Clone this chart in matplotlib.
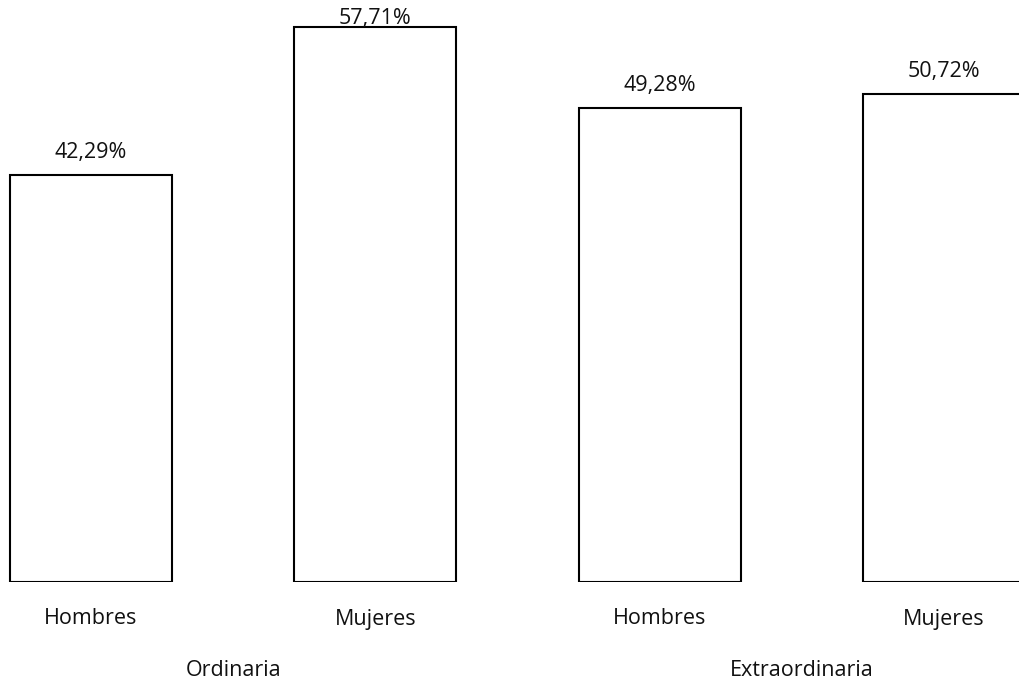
import matplotlib
matplotlib.use("Agg")
import matplotlib.pyplot as plt
import matplotlib.transforms as mtransforms

categories = ["Hombres", "Mujeres", "Hombres", "Mujeres"]
groups = ["Ordinaria", "Extraordinaria"]
values = [42.29, 57.71, 49.28, 50.72]
labels = ["42,29%", "57,71%", "49,28%", "50,72%"]

plt.rcParams['font.family'] = ['Open Sans', 'DejaVu Sans']
FS = 15.5

fig = plt.figure(figsize=(10.2, 6.85), dpi=100)
ax = fig.add_axes([0, 103/685, 1, 577.44/685])

x = list(range(len(values)))
ax.bar(x, values, width=0.57, color="white", edgecolor="black", linewidth=1.5)
ax.set_xlim(-0.320, 3.268)
ax.set_ylim(0, 60)
ax.axis("off")

for xi, v, lab in zip(x, values, labels):
    ly = min(v + 2.35, 58.55)
    ax.text(xi, ly, lab, ha="center", va="center", fontsize=FS, color="#111111")

trans = mtransforms.blended_transform_factory(ax.transData, fig.transFigure)
for xi, c in zip(x, categories):
    ax.text(xi, 1 - 619/685, c, ha="center", va="center", fontsize=FS,
            color="#111111", transform=trans, clip_on=False)
for gi, g in enumerate(groups):
    ax.text(2 * gi + 0.5, 1 - 671/685, g, ha="center", va="center", fontsize=FS,
            color="#111111", transform=trans, clip_on=False)

fig.savefig("out.png", dpi=100)
